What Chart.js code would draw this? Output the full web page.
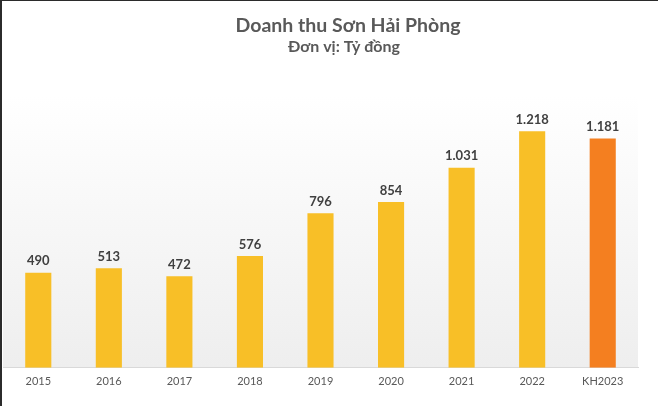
<!DOCTYPE html>
<html>
<head>
<meta charset="utf-8">
<script src="https://cdn.jsdelivr.net/npm/chart.js@4"></script>
<style>
  html, body { margin: 0; padding: 0; background: #fff; }
  #wrap { width: 656px; height: 405px; border-left: 2px solid #2b2b2b; border-top: 1px solid #2b2b2b; position: relative; }
  canvas { display: block; }
</style>
</head>
<body>
<div id="wrap"><canvas id="myChart" width="656" height="405"></canvas></div>
<script>
const years = ['2015', '2016', '2017', '2018', '2019', '2020', '2021', '2022', 'KH2023'];
const revenue = [490, 513, 472, 576, 796, 854, 1031, 1218, 1181];
const barColors = ['#F8BF27', '#F8BF27', '#F8BF27', '#F8BF27', '#F8BF27', '#F8BF27', '#F8BF27', '#F8BF27', '#F47F20'];
const title = 'Doanh thu Sơn Hải Phòng';
const subtitle = 'Đơn vị: Tỷ đồng';

// light gradient behind the bars + title text
const decor = {
  id: 'decor',
  beforeDraw(chart) {
    const { ctx, chartArea: a } = chart;
    const g = ctx.createLinearGradient(0, a.top, 0, a.bottom);
    g.addColorStop(0, '#ffffff');
    g.addColorStop(1, '#eeeeee');
    ctx.save();
    ctx.fillStyle = g;
    ctx.fillRect(a.left, a.top, a.right - a.left, a.bottom - a.top);
    ctx.fillStyle = '#595959';
    ctx.textAlign = 'center';
    ctx.textBaseline = 'alphabetic';
    ctx.font = 'bold 19.5px Lato';
    ctx.fillText(title, 346, 31);
    ctx.font = 'bold 16px Lato';
    ctx.fillText(subtitle, 342, 51);
    ctx.restore();
  },
  afterDatasetsDraw(chart) {
    const { ctx } = chart;
    const meta = chart.getDatasetMeta(0);
    ctx.save();
    ctx.fillStyle = '#404040';
    ctx.font = 'bold 13px Lato';
    ctx.textAlign = 'center';
    ctx.textBaseline = 'bottom';
    meta.data.forEach((bar, i) => {
      ctx.fillText(revenue[i].toLocaleString('de-DE'), bar.x, bar.y - 5);
    });
    ctx.restore();
  }
};

new Chart(document.getElementById('myChart'), {
  type: 'bar',
  data: {
    labels: years,
    datasets: [{
      data: revenue,
      backgroundColor: barColors,
      categoryPercentage: 1,
      barPercentage: 0.37
    }]
  },
  options: {
    responsive: false,
    animation: false,
    layout: { padding: { left: 1, right: 20, top: 95, bottom: 11 } },
    plugins: { legend: { display: false }, tooltip: { enabled: false } },
    scales: {
      x: {
        grid: { display: false, drawTicks: false },
        border: { color: '#d9d9d9' },
        ticks: { color: '#595959', font: { family: 'Lato', size: 11 }, padding: 7 }
      },
      y: { display: false, min: 0, max: 1400 }
    }
  },
  plugins: [decor]
});
</script>
</body>
</html>
